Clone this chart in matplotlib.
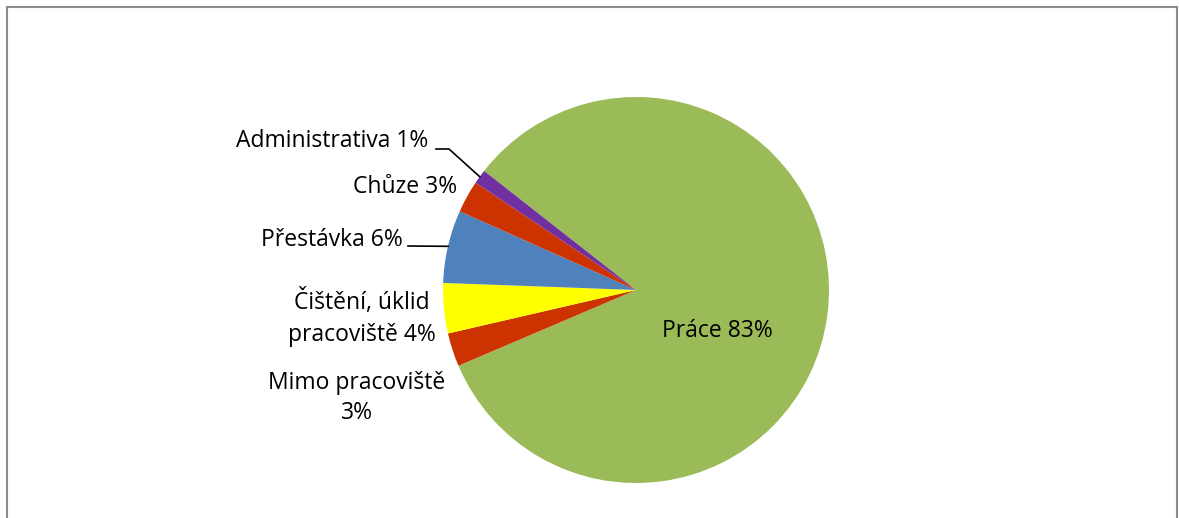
import numpy as np
import matplotlib.pyplot as plt
from matplotlib.patches import Rectangle

categories = ['Práce', 'Mimo pracoviště', 'Čištění, úklid pracoviště',
              'Přestávka', 'Chůze', 'Administrativa']
shares = [83.0, 2.8, 4.2, 6.1, 2.7, 1.2]
colors = ['#9BBB59', '#CC3300', '#FFFF00', '#4F81BD', '#CC3300', '#7030A0']

W, H = 1179, 518
cx, cy, r = 636, H - 290, 193
start = 141.9

plt.rcParams['font.family'] = ['Open Sans', 'DejaVu Sans']

fig = plt.figure(figsize=(W / 100, H / 100), dpi=100)
ax = fig.add_axes([0, 0, 1, 1])
ax.set_aspect('equal')
ax.axis('off')

wedges, _ = ax.pie(shares, colors=colors, startangle=start, counterclock=False,
                   center=(cx, cy), radius=r, wedgeprops=dict(linewidth=0))
ax.set_xlim(0, W)
ax.set_ylim(0, H)

pct = [f"{round(v)}%" for v in shares]
fs = 16.5

def edge_point(w):
    ang = np.deg2rad((w.theta1 + w.theta2) / 2)
    return cx + r * np.cos(ang), cy + r * np.sin(ang)

# Práce inside the big slice
ax.text(717, H - 331, f"Práce {pct[0]}", ha='center', va='center', fontsize=fs)
# two-line labels
ax.text(357, H - 398, f"Mimo pracoviště\n{pct[1]}", ha='center', va='center',
        fontsize=fs, linespacing=1.3)
ax.text(362, H - 318, f"Čištění, úklid\npracoviště {pct[2]}", ha='center',
        va='center', fontsize=fs, linespacing=1.4)
# Přestávka with leader
ax.text(403, H - 240, f"Přestávka {pct[3]}", ha='right', va='center', fontsize=fs)
px, py = edge_point(wedges[3])
ax.plot([408, px], [H - 246, py], color='black', lw=1.2)
# Chůze
ax.text(457, H - 187, f"Chůze {pct[4]}", ha='right', va='center', fontsize=fs)
# Administrativa with leader
ax.text(428, H - 141, f"Administrativa {pct[5]}", ha='right', va='center', fontsize=fs)
ex, ey = edge_point(wedges[5])
ax.plot([436, 449, ex], [H - 149, H - 149, ey], color='black', lw=1.2)

fig.patches.append(Rectangle((7 / W, -0.1), (1177 - 7) / W, (H - 7) / H + 0.1,
                             transform=fig.transFigure, fill=False,
                             edgecolor='#8c8c8c', linewidth=1.5))

fig.savefig('out.png', dpi=100)
